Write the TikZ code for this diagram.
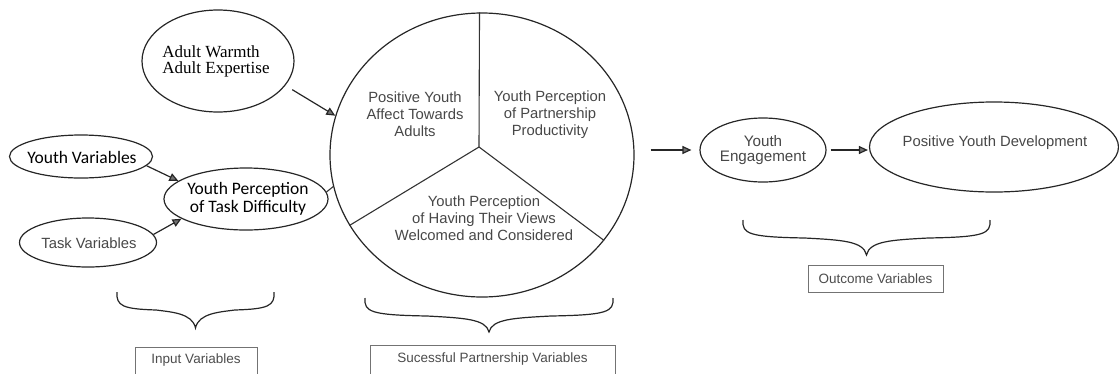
\documentclass[tikz,border=0pt]{standalone}
\usepackage{fontspec}
\setmainfont{Liberation Sans}
\newfontfamily\serifff{Liberation Serif}
\newfontfamily\calib{Carlito}
\usetikzlibrary{shapes.geometric,arrows.meta}
\newcommand{\curlybr}[4]{% x1, x2, ytop, ytip
  \draw[brc] (#1,#3) .. controls ({#1-1},{#3+14}) and ({#1+6},{#3+17}) .. ({(#1+#2)/4+#1/2},{#3+18})
    .. controls ({(#1+#2)/2-25},{#3+20}) and ({(#1+#2)/2-3},{#3+21}) .. ({(#1+#2)/2},{#4})
    .. controls ({(#1+#2)/2+3},{#3+21}) and ({(#1+#2)/2+25},{#3+20}) .. ({(#1+#2)/4+#2/2},{#3+18})
    .. controls ({#2-6},{#3+17}) and ({#2+1},{#3+14}) .. (#2,#3);}
\begin{document}
\begin{tikzpicture}[x=1bp,y=-1bp,
  oval/.style={draw=black!85, line width=1.2bp, ellipse, inner sep=0},
  arr/.style={draw=black!85, line width=1.2bp, -{Triangle[length=9bp,width=8bp,fill=black!55]}},
  ln/.style={draw=black!80, line width=1.1bp},
  brc/.style={draw=black!85, line width=1.2bp},
  asf/.style={font=\fontsize{14.8bp}{17bp}\selectfont, text=black!72, align=center, inner sep=0},
  csf/.style={font=\calib\fontsize{17.5bp}{18bp}\selectfont, text=black, align=center, inner sep=0},
  ssf/.style={font=\serifff\fontsize{17bp}{16bp}\selectfont, text=black, align=left, inner sep=0},
  vbox/.style={draw=black!55, line width=0.8bp, font=\fontsize{13.5bp}{15bp}\selectfont, text=black!70, inner sep=0, minimum height=27bp}]
\useasboundingbox (0,0) rectangle (1119,373);

% input side
\node[oval, minimum width=152bp, minimum height=102bp] (aw) at (218,61) {};
\node[ssf] (awt) at (216,61) {Adult Warmth\\Adult Expertise};
\node[oval, minimum width=143bp, minimum height=43bp] (yv) at (81,156.5) {};
\node[csf] (yvt) at (82,157) {Youth Variables};
\node[oval, minimum width=164bp, minimum height=62bp] (ytd) at (246,199) {};
\node[csf] (ytdt) at (248,199) {Youth Perception\\of Task Difficulty};
\node[oval, minimum width=137bp, minimum height=49bp] (tv) at (88,242.5) {};
\node[asf] (tvt) at (89,243) {Task Variables};

% partnership circle
\node[oval, minimum width=304bp, minimum height=284bp] (pc) at (482,155) {};
\coordinate (hub) at (479,147);
\draw[ln] (hub) -- (pc.91);
\draw[ln] (hub) -- (pc.208);
\draw[ln] (hub) -- (pc.-35);
\node[asf] (pya) at (415,114) {Positive Youth\\Affect Towards\\Adults};
\node[asf] (ppp) at (550,115) {Youth Perception\\of Partnership\\Productivity};
\node[asf] (phv) at (484,218) {Youth Perception\\of Having Their Views\\Welcomed and Considered};

% outcomes
\node[oval, minimum width=126bp, minimum height=64bp] (ye) at (763,150) {};
\node[asf, font=\fontsize{15.2bp}{15bp}\selectfont] (yet) at (763,150) {Youth\\Engagement};
\node[oval, minimum width=249bp, minimum height=90bp] (pyd) at (994,147) {};
\node[asf] (pydt) at (995,143) {Positive Youth Development};

% connectors
\draw[arr, shorten <=8bp] (aw.-20) -- (pc.165);
\draw[arr] (yv.-8) -- (ytd.165);
\draw[arr] (tv.7) -- (ytd.197);
\draw[ln] (ytd.5) -- (pc.192);
\draw[arr, shorten <=16bp, shorten >=8bp] (pc.east |- ye.west) -- (ye.west);
\draw[arr, shorten <=4bp, shorten >=1bp] (ye.east) -- (ye.east -| pyd.west);

% braces
\curlybr{117}{274}{292}{328}
\curlybr{365}{613}{298}{332}
\curlybr{743}{990}{220}{255}

% labels
\node[vbox, minimum width=122bp] (iv) at (196,360.5) {Input Variables};
\node[vbox, minimum width=245bp, minimum height=29bp] (sv) at (492.5,359.5) {Sucessful Partnership Variables};
\node[vbox, minimum width=135bp] (ov) at (875.5,278.5) {Outcome Variables};
\end{tikzpicture}
\end{document}
